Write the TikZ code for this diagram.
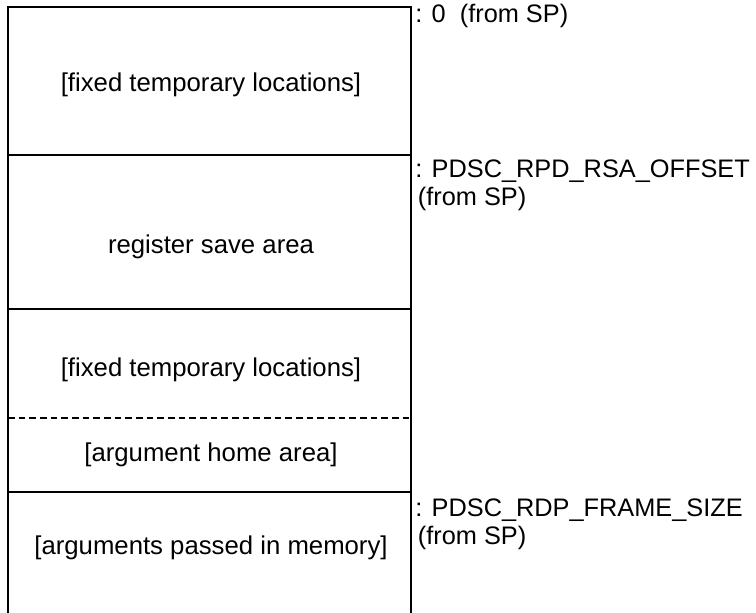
\documentclass[tikz,border=0pt]{standalone}
\usepackage{fontspec}
\setmainfont{Liberation Sans}
\begin{document}
\begin{tikzpicture}[x=0.75pt,y=-0.75pt,
    slot/.style={font=\fontsize{19.3}{23}\selectfont, inner sep=0pt},
    note/.style={font=\fontsize{19}{20.5}\selectfont, inner sep=0pt, anchor=north west, align=left},
    frame/.style={line width=2.2pt},
    split/.style={line width=1pt}]
  \useasboundingbox (0,0) rectangle (756,612);
  % stack frame outline
  \coordinate (tl) at (8,7);
  \coordinate (tr) at (411,7);
  \coordinate (bl) at (8,614);
  \coordinate (br) at (411,614);
  \foreach \y in {155,309,492}
    \draw[split] (8,\y) -- (411,\y);
  \draw[split, dash pattern=on 5pt off 3pt] (8,418) -- (411,418);
  \draw[frame] (bl) -- (tl) -- (tr) -- (br);
  % contents
  \node[slot] (fixtop) at (211,85) {[fixed temporary locations]};
  \node[slot] (rsa) at (211,247) {register save area};
  \node[slot] (fixlow) at (211,370) {[fixed temporary locations]};
  \node[slot] (home) at (211,455) {[argument home area]};
  \node[slot] (mem) at (211,548) {[arguments passed in memory]};
  % offsets
  \node[note] (zero) at (415,4) {: 0\ \ (from SP)};
  \node[note] (rsaoff) at (415,160) {: PDSC\_RPD\_RSA\_OFFSET\\\hspace*{2pt}(from SP)};
  \node[note] (fsize) at (415,499) {: PDSC\_RDP\_FRAME\_SIZE\\\hspace*{2pt}(from SP)};
\end{tikzpicture}
\end{document}
